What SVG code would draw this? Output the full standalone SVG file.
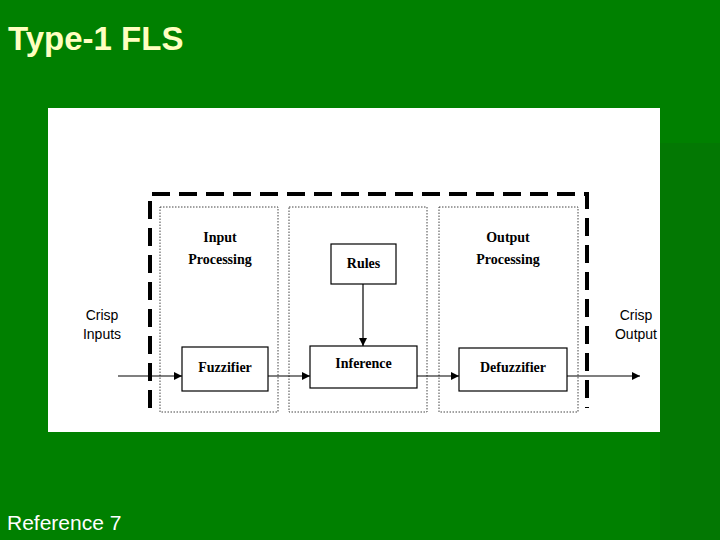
<svg xmlns="http://www.w3.org/2000/svg" width="720" height="540" viewBox="0 0 720 540">
<defs>
<marker id="ar" markerWidth="8" markerHeight="8" refX="8" refY="4" orient="auto" markerUnits="userSpaceOnUse"><path d="M0,0 L8,4 L0,8 Z" fill="#000"/></marker>
<style>
.box{fill:#fff;stroke:#000;stroke-width:1.2}
.dot{fill:none;stroke:#444;stroke-width:1;stroke-dasharray:1.5 1.5}
.ser{font-family:"Liberation Serif",serif;font-weight:bold;font-size:14px;text-anchor:middle;fill:#000}
.san{font-family:"Liberation Sans",sans-serif;font-size:14px;text-anchor:middle;fill:#000}
.ln{stroke:#000;stroke-width:1.2;fill:none;marker-end:url(#ar)}
</style>
</defs>
<rect width="720" height="540" fill="#008000"/>
<rect x="660" y="143" width="60" height="397" fill="#037803"/>
<text x="8" y="50" font-family="Liberation Sans,sans-serif" font-weight="bold" font-size="33" fill="#ffffc0">Type-1 FLS</text>
<text x="7" y="530" font-family="Liberation Sans,sans-serif" font-size="21" fill="#fff">Reference 7</text>
<rect x="48" y="108" width="612" height="324" fill="#fff"/>
<path d="M150,408 V194 H587 V408" fill="none" stroke="#000" stroke-width="4" stroke-dasharray="18 9"/>
<rect class="dot" x="160" y="207" width="118" height="205"/>
<rect class="dot" x="289" y="207" width="138" height="205"/>
<rect class="dot" x="439" y="207" width="139" height="205"/>
<g id="labels">
<text class="ser" x="220" y="242">Input</text><text class="ser" x="220" y="264">Processing</text>
<text class="ser" x="508" y="242">Output</text><text class="ser" x="508" y="264">Processing</text>
<text class="san" x="102" y="320">Crisp</text><text class="san" x="102" y="339">Inputs</text>
<text class="san" x="636" y="320">Crisp</text><text class="san" x="636" y="339">Output</text>
</g>
<g id="connectors">
<line class="ln" x1="118" y1="376" x2="182" y2="376"/>
<line class="ln" x1="268" y1="376" x2="310" y2="376"/>
<line class="ln" x1="417" y1="376" x2="459" y2="376"/>
<line class="ln" x1="567" y1="376" x2="640" y2="376"/>
<line class="ln" x1="363" y1="284" x2="363" y2="346"/>
</g>
<g id="rules"><rect class="box" x="331" y="244" width="65" height="40"/><text class="ser" x="363.5" y="268">Rules</text></g>
<g id="fuzzifier"><rect class="box" x="182" y="347" width="86" height="44"/><text class="ser" x="225" y="372">Fuzzifier</text></g>
<g id="inference"><rect class="box" x="310" y="346" width="107" height="42"/><text class="ser" x="363.5" y="368">Inference</text></g>
<g id="defuzzifier"><rect class="box" x="459" y="348" width="108" height="43"/><text class="ser" x="513" y="372">Defuzzifier</text></g>
</svg>
